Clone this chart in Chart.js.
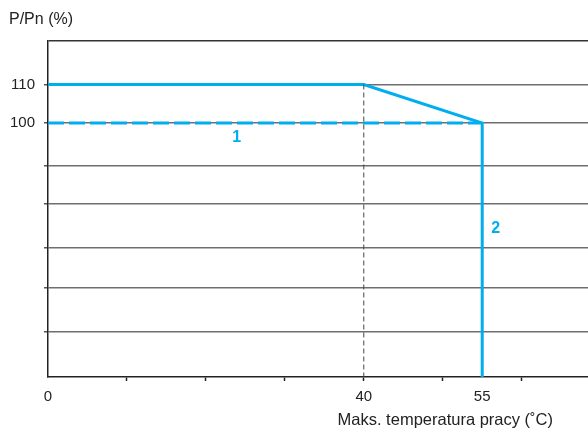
<!DOCTYPE html>
<html>
<head>
<meta charset="utf-8">
<script src="https://cdn.jsdelivr.net/npm/chart.js@4.4.1/dist/chart.umd.min.js"></script>
<style>
  html, body { margin: 0; padding: 0; background: #fff; }
  #wrap { width: 588px; height: 429px; }
</style>
</head>
<body>
<div id="wrap"><canvas id="chart"></canvas></div>
<script>
// axis ticks
const xTickValues = [0, 10, 20, 30, 40, 50, 55, 60];
const xTickLabels = ['0', '', '', '', '40', '', '55', ''];
const yTickValues = [45.7, 57.1, 67.5, 78.9, 88.8, 100, 110, 121.3];
const yTickLabels = ['', '', '', '', '', '100', '110', ''];

// series
const powerX = [0, 40, 55, 55];
const powerY = [110, 110, 100, 34];
const nominalX = [0, 55];
const nominalY = [100, 100];
const markerX = [40, 40];
const markerY = [110, 34];

// curve numbers
const noteText = ['1', '2'];
const noteX = [23.9, 56.7];
const noteY = [96.3, 72.6];

const BLUE = '#00aeef';
const FONT = "'Liberation Sans', Arial, sans-serif";

function toPoints(xs, ys) {
  return xs.map((x, i) => ({ x: x, y: ys[i] }));
}

const labelsPlugin = {
  id: 'labels',
  afterDatasetsDraw(chart) {
    const ctx = chart.ctx;
    const xs = chart.scales.x, ys = chart.scales.y;
    ctx.save();
    ctx.fillStyle = BLUE;
    ctx.font = 'bold 16px ' + FONT;
    ctx.textAlign = 'center';
    ctx.textBaseline = 'middle';
    noteText.forEach((t, i) => {
      ctx.fillText(t, xs.getPixelForValue(noteX[i]), ys.getPixelForValue(noteY[i]));
    });
    ctx.fillStyle = '#222';
    ctx.font = '16px ' + FONT;
    ctx.textAlign = 'left';
    ctx.fillText('P/Pn (%)', 9, 20);
    ctx.textAlign = 'right';
    ctx.font = '16.5px ' + FONT;
    ctx.fillText('Maks. temperatura pracy (˚C)', 553, 420);
    ctx.restore();
  }
};

const ctx = document.getElementById('chart').getContext('2d');

const chart = new Chart(ctx, {
  type: 'line',
  data: {
    datasets: [
      {
        data: toPoints(markerX, markerY),
        borderColor: '#444',
        borderWidth: 1,
        borderDash: [5, 3],
        pointRadius: 0,
      },
      {
        data: toPoints(nominalX, nominalY),
        borderColor: BLUE,
        borderWidth: 3,
        borderDash: [16, 5],
        pointRadius: 0,
      },
      {
        data: toPoints(powerX, powerY),
        borderColor: BLUE,
        borderWidth: 3,
        borderJoinStyle: 'miter',
        pointRadius: 0,
      },
    ],
  },
  options: {
    responsive: true,
    maintainAspectRatio: false,
    animation: false,
    layout: { padding: { top: 41, left: 0, right: 0, bottom: 0 } },
    plugins: { legend: { display: false }, tooltip: { enabled: false } },
    scales: {
      x: {
        type: 'linear',
        min: 0,
        max: 68.4,
        afterBuildTicks: (s) => { s.ticks = xTickValues.map(v => ({ value: v })); },
        afterFit: (s) => { s.height = 52; },
        border: { color: '#222', width: 1.5 },
        grid: {
          drawOnChartArea: false,
          tickLength: 4,
          tickColor: (c) => (c.tick && (c.tick.value === 0 || c.tick.value === 55)) ? 'rgba(0,0,0,0)' : '#222',
          tickWidth: 1.5,
        },
        ticks: {
          autoSkip: false,
          maxRotation: 0,
          padding: 7,
          color: '#222',
          font: { family: FONT, size: 15 },
          callback: (v) => xTickLabels[xTickValues.indexOf(v)],
        },
      },
      y: {
        min: 34,
        max: 121.3,
        afterBuildTicks: (s) => { s.ticks = yTickValues.map(v => ({ value: v })); },
        afterFit: (s) => { s.width = 48; },
        border: { color: '#222', width: 1.5 },
        grid: {
          color: (c) => c.tick && c.tick.value === 121.3 ? '#333' : '#6e6e6e',
          lineWidth: 1.5,
          tickLength: 4,
          tickColor: (c) => c.tick && c.tick.value === 121.3 ? 'rgba(0,0,0,0)' : '#555',
        },
        ticks: {
          autoSkip: false,
          padding: 9,
          color: '#222',
          font: { family: FONT, size: 15 },
          callback: (v) => yTickLabels[yTickValues.indexOf(v)],
        },
      },
    },
  },
  plugins: [labelsPlugin],
});
</script>
</body>
</html>
